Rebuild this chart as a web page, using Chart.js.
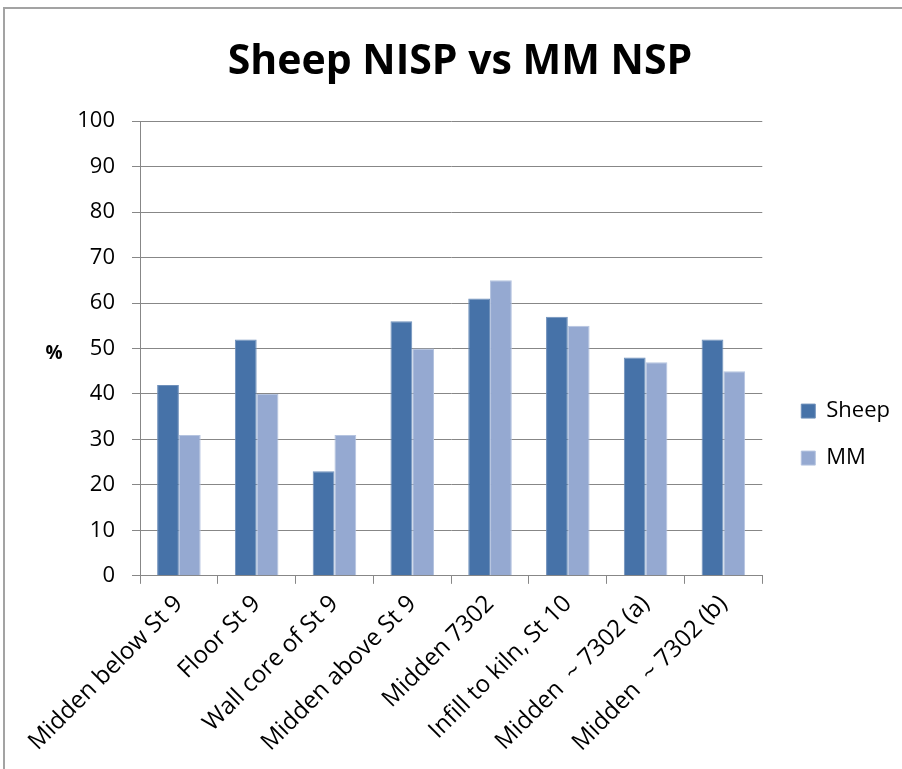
<!DOCTYPE html>
<html>
<head>
<meta charset="utf-8">
<script src="https://cdn.jsdelivr.net/npm/chart.js@4.4.0/dist/chart.umd.min.js"></script>
<style>
  html, body { margin: 0; padding: 0; background: #fff; }
  #wrap { position: relative; width: 902px; height: 769px; }
  #frame { position: absolute; left: 3px; top: 7px; right: 0; bottom: 0;
           border-top: 2px solid #a3a3a3; border-left: 2px solid #a3a3a3; }
  canvas { position: absolute; left: 0; top: 0; }
</style>
</head>
<body>
<div id="wrap">
  <div id="frame"></div>
  <canvas id="c" width="902" height="769"></canvas>
</div>
<script>
const categories = ['Midden below St 9', 'Floor St 9', 'Wall core of St 9', 'Midden above St 9',
  'Midden 7302', 'Infill to kiln, St 10', 'Midden  ~ 7302 (a)', 'Midden  ~ 7302 (b)'];
const sheep = [42, 52, 23, 56, 61, 57, 48, 52];
const mm = [31, 40, 31, 50, 65, 55, 47, 45];
const yTicks = [0, 10, 20, 30, 40, 50, 60, 70, 80, 90, 100];

const FONT = "'Open Sans', 'Noto Sans', sans-serif";
const GRID = '#878787';

// the "%" label sits horizontally to the left of the value axis
const percentLabel = {
  id: 'percentLabel',
  afterDraw(chart) {
    const ctx = chart.ctx;
    const y = chart.scales.y;
    ctx.save();
    ctx.font = "bold 19px " + FONT;
    ctx.fillStyle = '#000';
    ctx.textAlign = 'center';
    ctx.textBaseline = 'middle';
    ctx.fillText('%', 54, y.getPixelForValue(50) + 5);
    ctx.restore();
  }
};

new Chart(document.getElementById('c'), {
  type: 'bar',
  data: {
    labels: categories,
    datasets: [
      { label: 'Sheep', data: sheep, backgroundColor: '#4672a8', borderColor: '#6f90bb', borderWidth: 1,
        categoryPercentage: 0.56, barPercentage: 1 },
      { label: 'MM', data: mm, backgroundColor: '#95a9d1', borderColor: '#b5c4e0', borderWidth: 1,
        categoryPercentage: 0.56, barPercentage: 1 }
    ]
  },
  options: {
    responsive: false,
    animation: false,
    layout: { padding: { left: 20, right: 2, top: 38, bottom: 6 } },
    plugins: {
      title: {
        display: true,
        text: 'Sheep NISP vs MM NSP',
        color: '#000',
        font: { family: FONT, size: 41, weight: 'bold' },
        padding: { top: 0, bottom: 34 }
      },
      legend: {
        position: 'right',
        // empty title used only as a spacer to push the entries down
        title: { display: true, text: ' ', font: { size: 1 }, padding: { top: 0, bottom: 67 } },
        labels: {
          color: '#000',
          font: { family: FONT, size: 22 },
          boxWidth: 14,
          boxHeight: 14,
          padding: 25
        }
      },
      tooltip: { enabled: false }
    },
    scales: {
      x: {
        grid: { display: true, drawOnChartArea: false, drawTicks: true, tickLength: 8, color: GRID, offset: true },
        border: { color: GRID, width: 1 },
        ticks: { color: '#000', font: { family: FONT, size: 24 }, minRotation: 45, maxRotation: 45, padding: 6 }
      },
      y: {
        min: 0,
        max: 100,
        afterBuildTicks(scale) { scale.ticks = yTicks.map(v => ({ value: v })); },
        afterFit(scale) { scale.width = 120; },
        grid: { color: GRID, tickLength: 8 },
        border: { color: GRID, width: 1 },
        ticks: { color: '#000', font: { family: FONT, size: 22 }, padding: 17 }
      },
      // blank gap between plot and legend
      gap: {
        position: 'right',
        display: true,
        grid: { display: false },
        border: { display: false },
        ticks: { display: false },
        afterFit(scale) { scale.width = 14; }
      }
    }
  },
  plugins: [percentLabel]
});
</script>
</body>
</html>
